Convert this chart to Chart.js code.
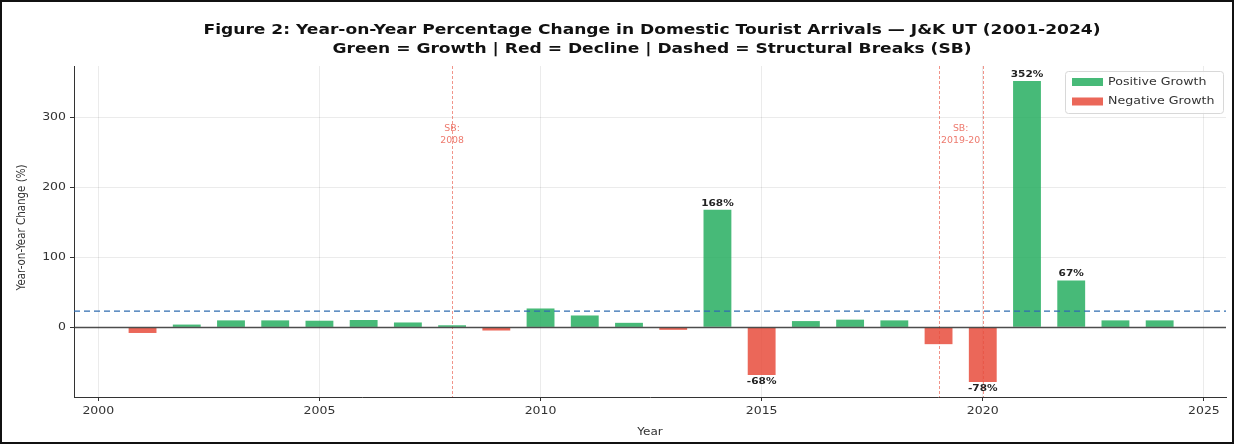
<!DOCTYPE html>
<html>
<head>
<meta charset="utf-8">
<script src="https://cdn.jsdelivr.net/npm/chart.js@4.4.1/dist/chart.umd.min.js"></script>
<style>
  html, body { margin: 0; padding: 0; background: #fff; }
  #wrap { width: 1234px; height: 444px; position: relative; }
  canvas { display: block; }
</style>
</head>
<body>
<div id="wrap"><canvas id="c" width="1234" height="444"></canvas></div>
<script>
// ---- data ----
const years = [2001, 2002, 2003, 2004, 2005, 2006, 2007, 2008, 2009, 2010, 2011, 2012,
               2013, 2014, 2015, 2016, 2017, 2018, 2019, 2020, 2021, 2022, 2023, 2024];
const yoyChange = [-8, 4, 10, 10, 9.5, 10.5, 7, 3, -4.5, 27, 17, 6.5,
                   -3.5, 168, -68, 9, 11, 10, -24, -78, 352, 67, 10, 10];
const xTickValues = [2000, 2005, 2010, 2015, 2020, 2025];
const yTickValues = [0, 100, 200, 300];
const breakYears = [2008, 2019, 2020];
const breakLabelYears = [2008, 2019.5];
const breakLabelTexts = [["SB:", "2008"], ["SB:", "2019-20"]];
const labelThreshold = 50;

const titleLines = [
  "Figure 2: Year-on-Year Percentage Change in Domestic Tourist Arrivals \u2014 J&K UT (2001-2024)",
  "Green = Growth | Red = Decline | Dashed = Structural Breaks (SB)"
];
const xAxisTitle = "Year";
const yAxisTitle = "Year-on-Year Change (%)";

const GREEN = "rgba(39,174,96,0.85)";
const RED = "rgba(231,76,60,0.85)";
const FONT = "'DejaVu Sans', sans-serif";
const SX = 1.17; // horizontal stretch of the reference text

const posData = [], negData = [];
years.forEach((yr, i) => {
  const v = yoyChange[i];
  (v >= 0 ? posData : negData).push({ x: yr, y: v });
});
const meanValue = yoyChange.reduce((a, b) => a + b, 0) / yoyChange.length;

function sText(ctx, text, x, y, font, color, align, baseline) {
  ctx.save();
  ctx.font = font;
  ctx.fillStyle = color;
  ctx.textAlign = align || "center";
  ctx.textBaseline = baseline || "middle";
  ctx.translate(x, y);
  ctx.scale(SX, 1);
  ctx.fillText(text, 0, 0);
  ctx.restore();
}

const overlay = {
  id: "overlay",
  beforeDraw(chart) {
    const ctx = chart.ctx;
    ctx.save();
    ctx.fillStyle = "#fff";
    ctx.fillRect(0, 0, chart.width, chart.height);
    ctx.restore();
  },
  beforeDatasetsDraw(chart) {
    const { ctx, chartArea: a, scales: { x, y } } = chart;
    ctx.save();
    ctx.strokeStyle = "rgba(231,76,60,0.6)";
    ctx.lineWidth = 1;
    ctx.setLineDash([3, 2]);
    breakYears.forEach(b => {
      const px = Math.round(x.getPixelForValue(b)) + 0.5;
      ctx.beginPath(); ctx.moveTo(px, a.top); ctx.lineTo(px, a.bottom); ctx.stroke();
    });
    ctx.restore();
    breakLabelYears.forEach((b, i) => {
      const px = x.getPixelForValue(b);
      const py = y.getPixelForValue(300) + 11;
      breakLabelTexts[i].forEach((t, j) =>
        sText(ctx, t, px, py + j * 12, "8px " + FONT, "rgba(231,76,60,0.75)"));
    });
  },
  afterDatasetsDraw(chart) {
    const { ctx, chartArea: a, scales: { x, y } } = chart;
    ctx.save();
    const y0 = Math.round(y.getPixelForValue(0)) + 0.5;
    ctx.strokeStyle = "rgba(60,60,60,0.9)";
    ctx.lineWidth = 1.3;
    ctx.beginPath(); ctx.moveTo(a.left, y0); ctx.lineTo(a.right, y0); ctx.stroke();
    const ym = y.getPixelForValue(meanValue);
    ctx.strokeStyle = "#2f6cb0";
    ctx.lineWidth = 1.4;
    ctx.setLineDash([6, 4]);
    ctx.beginPath(); ctx.moveTo(a.left, ym); ctx.lineTo(a.right, ym); ctx.stroke();
    ctx.restore();
    // value labels
    years.forEach((yr, i) => {
      const v = yoyChange[i];
      if (Math.abs(v) < labelThreshold) return;
      const px = x.getPixelForValue(yr);
      const py = y.getPixelForValue(v);
      const t = Math.round(v) + "%";
      if (v >= 0) sText(ctx, t, px, py - 2, "bold 9px " + FONT, "#222", "center", "bottom");
      else sText(ctx, t, px, py + 2, "bold 9px " + FONT, "#222", "center", "top");
    });
    // legend
    const lx = a.right - 161, ly = a.top + 5, lw = 158, lh = 42;
    ctx.save();
    ctx.fillStyle = "rgba(255,255,255,0.85)";
    ctx.strokeStyle = "#d8d8d8";
    ctx.lineWidth = 1;
    ctx.beginPath();
    ctx.roundRect(lx + 0.5, ly + 0.5, lw, lh, 3);
    ctx.fill(); ctx.stroke();
    ctx.restore();
    chart.data.datasets.forEach((d, i) => {
      const ry = ly + 11 + i * 19.5;
      ctx.fillStyle = d.backgroundColor;
      ctx.fillRect(lx + 7, ry - 4, 31, 8);
      sText(ctx, d.label, lx + 43, ry, "10.8px " + FONT, "#333", "left", "middle");
    });
  },
  afterDraw(chart) {
    const { ctx, chartArea: a, scales: { x, y } } = chart;
    // tick labels
    xTickValues.forEach(v =>
      sText(ctx, String(v), x.getPixelForValue(v), a.bottom + 14, "10.7px " + FONT, "#333"));
    yTickValues.forEach(v =>
      sText(ctx, String(v), a.left - 8, y.getPixelForValue(v), "10.7px " + FONT, "#333", "right", "middle"));
    // axis titles
    sText(ctx, xAxisTitle, (a.left + a.right) / 2, a.bottom + 35, "10.3px " + FONT, "#333");
    ctx.save();
    ctx.translate(22, (a.top + a.bottom) / 2 - 4);
    ctx.scale(SX, 1);
    ctx.rotate(-Math.PI / 2);
    ctx.font = "10.3px " + FONT;
    ctx.fillStyle = "#333";
    ctx.textAlign = "center";
    ctx.textBaseline = "middle";
    ctx.fillText(yAxisTitle, 0, 0);
    ctx.restore();
    // title
    titleLines.forEach((t, i) =>
      sText(ctx, t, 652, 30 + i * 19, "bold 14.6px " + FONT, "#111"));
    // frame
    ctx.save();
    ctx.strokeStyle = "#111";
    ctx.lineWidth = 2;
    ctx.strokeRect(1, 1, chart.width - 2, chart.height - 2);
    ctx.restore();
  }
};

new Chart(document.getElementById("c"), {
  type: "bar",
  data: {
    datasets: [
      { label: "Positive Growth", data: posData, backgroundColor: GREEN, grouped: false,
        barPercentage: 0.63, categoryPercentage: 1 },
      { label: "Negative Growth", data: negData, backgroundColor: RED, grouped: false,
        barPercentage: 0.63, categoryPercentage: 1 }
    ]
  },
  options: {
    responsive: false,
    animation: false,
    devicePixelRatio: 1,
    layout: { padding: { left: 0, right: 8, top: 66, bottom: 0 } },
    plugins: {
      legend: { display: false },
      tooltip: { enabled: false },
      title: { display: false }
    },
    scales: {
      x: {
        type: "linear",
        offset: false,
        min: 1999.45,
        max: 2025.5,
        afterBuildTicks: s => { s.ticks = xTickValues.map(v => ({ value: v })); },
        afterFit: s => { s.height = 47; },
        ticks: { display: false },
        grid: { offset: false, color: "rgba(0,0,0,0.08)", tickColor: "#333", tickLength: 4 },
        border: { display: true, color: "#333", width: 1 }
      },
      y: {
        type: "linear",
        min: -99.5,
        max: 373.5,
        afterBuildTicks: s => { s.ticks = yTickValues.map(v => ({ value: v })); },
        afterFit: s => { s.width = 74; },
        ticks: { display: false },
        grid: { color: "rgba(0,0,0,0.08)", tickColor: "#333", tickLength: 4 },
        border: { display: true, color: "#333", width: 1 }
      }
    }
  },
  plugins: [overlay]
});
</script>
</body>
</html>
